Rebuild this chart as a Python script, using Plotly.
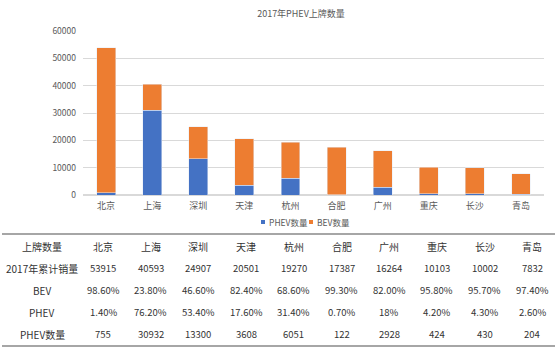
import plotly.graph_objects as go

cities = ["北京", "上海", "深圳", "天津", "杭州", "合肥", "广州", "重庆", "长沙", "青岛"]
total = [53915, 40593, 24907, 20501, 19270, 17387, 16264, 10103, 10002, 7832]
bev_pct = ["98.60%", "23.80%", "46.60%", "82.40%", "68.60%", "99.30%", "82.00%", "95.80%", "95.70%", "97.40%"]
phev_pct = ["1.40%", "76.20%", "53.40%", "17.60%", "31.40%", "0.70%", "18%", "4.20%", "4.30%", "2.60%"]
phev = [755, 30932, 13300, 3608, 6051, 122, 2928, 424, 430, 204]
bev = [t - p for t, p in zip(total, phev)]
row_labels = ["上牌数量", "2017年累计销量", "BEV", "PHEV", "PHEV数量"]
title = "2017年PHEV上牌数量"
series_names = ["PHEV数量", "BEV数量"]
colors = ["#4472C4", "#ED7D31"]

W, H = 557, 349
L, R, T, B = 83, 13, 31, 154
PW, PH = W - L - R, H - T - B

def px_x(px):
    return (px - L) / PW

def px_y(py):
    return (H - B - py) / PH

FONT = "Noto Sans CJK SC"
fig = go.Figure()
for vals, name, col in zip([phev, bev], series_names, colors):
    fig.add_trace(go.Bar(x=cities, y=vals, name=name, marker_color=col, showlegend=False))

fig.update_layout(
    width=W, height=H, barmode="stack", bargap=0.59, showlegend=False,
    margin=dict(l=L, r=R, t=T, b=B),
    paper_bgcolor="white", plot_bgcolor="white",
    font=dict(family=FONT, size=9, color="#595959"),
    title=dict(text=title, x=301 / W, xref="container", xanchor="center",
               y=1 - 14 / H, yref="container", yanchor="middle",
               font=dict(size=9, color="#595959")),
    yaxis=dict(range=[0, 60000], dtick=10000, tickformat="d", gridcolor="#D9D9D9", gridwidth=1,
               zeroline=True, zerolinecolor="#D9D9D9", tickfont=dict(size=8.5, color="#595959"),
               ticklabelstandoff=6, fixedrange=True),
    xaxis=dict(showline=True, linecolor="#D9D9D9", tickfont=dict(size=9, color="#595959"),
               ticklabelstandoff=2),
)

# legend (small squares + labels, as in the reference)
leg_x = [263, 311]
leg_y = 222
for name, col, lx in zip(series_names, colors, leg_x):
    fig.add_shape(type="rect", xref="paper", yref="paper",
                  x0=px_x(lx - 2), x1=px_x(lx + 2), y0=px_y(leg_y + 2), y1=px_y(leg_y - 2),
                  fillcolor=col, line=dict(width=0))
    fig.add_annotation(text=name, x=px_x(lx + 4), y=px_y(leg_y), xref="paper", yref="paper",
                       showarrow=False, xanchor="left", yanchor="middle",
                       font=dict(family=FONT, size=8.5, color="#595959"))

row_y = [246, 268, 290, 312, 334]
col_x = [103 + i * 47.7 for i in range(len(cities))]
rows = [cities, total, bev_pct, phev_pct, phev]
for r, (lab, vals) in enumerate(zip(row_labels, rows)):
    fig.add_annotation(text=lab, x=px_x(42), y=px_y(row_y[r]), xref="paper", yref="paper",
                       showarrow=False, xanchor="center", yanchor="middle",
                       font=dict(family=FONT, size=10, color="#333333"))
    size = 10 if r == 0 else 9.5
    for c, v in enumerate(vals):
        fig.add_annotation(text=str(v), x=px_x(col_x[c]), y=px_y(row_y[r]), xref="paper", yref="paper",
                           showarrow=False, xanchor="center", yanchor="middle",
                           font=dict(family=FONT, size=size, color="#333333"))

for ly in (234, 346):
    fig.add_shape(type="line", xref="paper", yref="paper", x0=px_x(2), x1=px_x(555),
                  y0=px_y(ly), y1=px_y(ly), line=dict(color="#A6A6A6", width=2))

fig.write_html("out.html")
